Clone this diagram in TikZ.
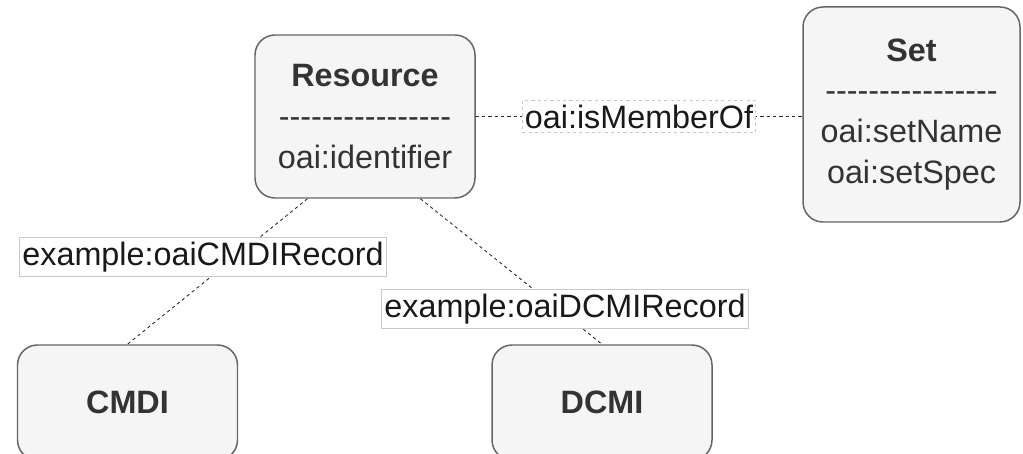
\documentclass[tikz,border=0pt]{standalone}
\usepackage{fontspec}
\setmainfont{Liberation Sans}
\usetikzlibrary{calc}
\definecolor{boxfill}{HTML}{F5F5F5}
\definecolor{boxline}{HTML}{666666}
\definecolor{txt}{HTML}{333333}
\definecolor{lblline}{HTML}{C8C8C8}
\newcommand{\sepdashes}{-{}-{}-{}-{}-{}-{}-{}-{}-{}-{}-{}-{}-{}-{}-{}-}

\begin{document}
\begin{tikzpicture}[
  every node/.style={font=\fontsize{18.4}{23.3}\selectfont},
  ent/.style={draw=boxline,fill=boxfill,text=txt,line width=0.85pt,rounded corners=0.4cm,align=center,inner sep=0pt,minimum width=4.4cm},
  rel/.style={draw=black!85,dash pattern=on 1.8pt off 1.8pt,line width=0.5pt},
  lbl/.style={draw=lblline,fill=white,line width=0.4pt,inner xsep=1.5pt,inner ysep=2.5pt,text=black!90}]
\useasboundingbox (0,0) rectangle (20.46,9.06);
\node[ent,minimum height=3.26cm] (res) at (7.30,6.73) {\textbf{Resource}\\\sepdashes\\oai:identifier};
\node[ent,minimum width=4.34cm,minimum height=4.3cm] (set) at (18.23,6.77) {\textbf{Set}\\\sepdashes\\oai:setName\\oai:setSpec};
\node[ent,minimum height=2.3cm] (cmdi) at (2.55,1.01) {\textbf{CMDI}};
\node[ent,minimum height=2.3cm] (dcmi) at (12.04,1.01) {\textbf{DCMI}};
\draw[rel] (res.east) -- node[lbl] (memb) {oai:isMemberOf} (res.east -| set.west);
\draw[rel] ($(res.south west)!0.24!(res.south east)$) -- (cmdi.north);
\draw[rel] ($(res.south west)!0.75!(res.south east)$) -- (dcmi.north);
\node[lbl] (cmdilbl) at (4.06,3.92) {example:oaiCMDIRecord};
\node[lbl] (dcmilbl) at (11.30,2.88) {example:oaiDCMIRecord};
\end{tikzpicture}
\end{document}
